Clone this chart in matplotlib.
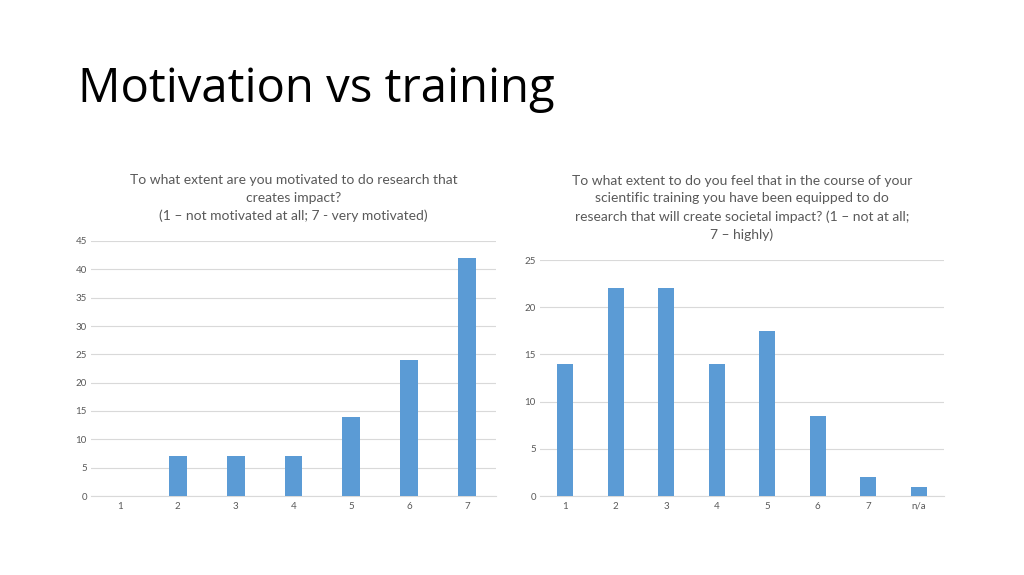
import matplotlib
matplotlib.use("Agg")
import matplotlib.pyplot as plt
import numpy as np

# data
left_cats = ["1", "2", "3", "4", "5", "6", "7"]
left_vals = [0, 7, 7, 7, 14, 24, 42]
left_title = ("To what extent are you motivated to do research that\n"
              "creates impact?\n"
              "(1 \u2013 not motivated at all; 7 - very motivated)")

right_cats = ["1", "2", "3", "4", "5", "6", "7", "n/a"]
right_vals = [14, 22, 22, 14, 17.5, 8.5, 2, 1]
right_title = ("To what extent to do you feel that in the course of your\n"
               "scientific training you have been equipped to do\n"
               "research that will create societal impact? (1 \u2013 not at all;\n"
               "7 \u2013 highly)")

BAR = "#5b9bd5"
GRID = "#d9d9d9"
TICK = "#595959"


def bar_chart(ax, cats, vals, ymax, title):
    x = np.arange(len(cats))
    ax.bar(x, vals, width=0.31, color=BAR, zorder=3)
    ax.set_xlim(-0.5, len(cats) - 0.5)
    ax.set_ylim(0, ymax)
    ax.set_yticks(np.arange(0, ymax + 1, 5))
    ax.set_xticks(x)
    ax.set_xticklabels(cats)
    ax.grid(axis="y", color=GRID, linewidth=0.8, zorder=0)
    for s in ["top", "right", "left"]:
        ax.spines[s].set_visible(False)
    ax.spines["bottom"].set_color(GRID)
    ax.tick_params(length=0, labelsize=7, colors=TICK)
    ax.tick_params(axis="x", pad=4)
    ax.tick_params(axis="y", pad=3)
    for lab in ax.get_xticklabels() + ax.get_yticklabels():
        lab.set_family("Lato")
    ax.set_title(title, fontsize=10, color="#595959", family="Lato",
                 linespacing=1.55, pad=15)


fig = plt.figure(figsize=(10.24, 5.75), dpi=100)
fig.patch.set_facecolor("white")

fig.text(78 / 1024, 1 - 102 / 575, "Motivation vs training", fontsize=34,
         family="Open Sans", color="black", va="baseline", ha="left")

ax1 = fig.add_axes([91 / 1024, 79 / 575, 405 / 1024, 255 / 575])
bar_chart(ax1, left_cats, left_vals, 45, left_title)

ax2 = fig.add_axes([540 / 1024, 79 / 575, 404 / 1024, 236 / 575])
bar_chart(ax2, right_cats, right_vals, 25, right_title)

fig.savefig("out.png", dpi=100)
